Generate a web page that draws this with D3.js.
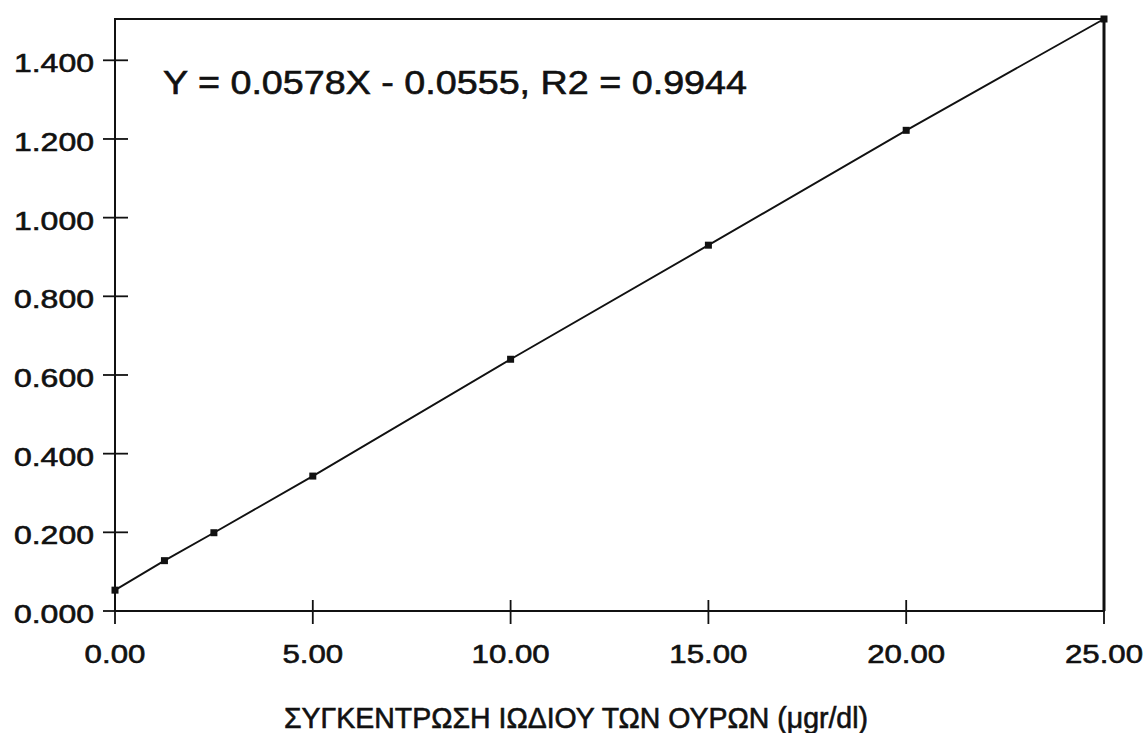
<!DOCTYPE html>
<html>
<head>
<meta charset="utf-8">
<script src="https://cdn.jsdelivr.net/npm/d3@7/dist/d3.min.js"></script>
<style>
  html, body { margin: 0; padding: 0; background: #fff; }
  svg { display: block; }
  text { font-family: "Liberation Sans", Arial, Helvetica, sans-serif; fill: #111; stroke: #111; stroke-width: 0.6px; }
</style>
</head>
<body>
<svg id="chart" width="1147" height="733"></svg>
<script>
// ---- data ----
const concentration = [0, 1.25, 2.5, 5, 10, 15, 20, 25];
const absorbance = [0.053, 0.128, 0.199, 0.343, 0.640, 0.930, 1.222, 1.505];
const xTicks = [0, 5, 10, 15, 20, 25];
const yTicks = [0, 0.2, 0.4, 0.6, 0.8, 1.0, 1.2, 1.4];
const equationText = "Y = 0.0578X - 0.0555, R2 = 0.9944";
const xTitle = "ΣΥΓΚΕΝΤΡΩΣΗ ΙΩΔΙΟΥ ΤΩΝ ΟΥΡΩΝ (μgr/dl)";

// ---- layout ----
const svg = d3.select("#chart");
const pLeft = 115, pRight = 1104, pTop = 19, pBottom = 611;
const x = d3.scaleLinear().domain([0, 25]).range([pLeft, pRight]);
const y = d3.scaleLinear().domain([0, 1.505]).range([pBottom, pTop]);
const ink = "#111";

// frame
svg.append("rect")
  .attr("x", pLeft).attr("y", pTop)
  .attr("width", pRight - pLeft).attr("height", pBottom - pTop)
  .attr("fill", "none").attr("stroke", ink).attr("stroke-width", 2);
svg.append("line")
  .attr("x1", pRight).attr("x2", pRight).attr("y1", pTop).attr("y2", pBottom)
  .attr("stroke", ink).attr("stroke-width", 3);

// y ticks (crossing the axis)
const yt = svg.append("g");
yTicks.forEach(v => {
  yt.append("line")
    .attr("x1", pLeft - 12).attr("x2", pLeft + 13)
    .attr("y1", y(v)).attr("y2", y(v))
    .attr("stroke", ink).attr("stroke-width", 1.8);
  const t = yt.append("text")
    .attr("x", 94).attr("y", y(v) + 12)
    .attr("text-anchor", "end")
    .attr("font-size", 26)
    .text(d3.format(".3f")(v));
  const L = t.node().getComputedTextLength();
  t.attr("textLength", L * 1.23).attr("lengthAdjust", "spacingAndGlyphs");
});

// x ticks
const xt = svg.append("g");
xTicks.forEach(v => {
  xt.append("line")
    .attr("x1", x(v)).attr("x2", x(v))
    .attr("y1", pBottom - 11).attr("y2", pBottom + 13)
    .attr("stroke", ink).attr("stroke-width", 1.8);
  const t = xt.append("text")
    .attr("x", x(v)).attr("y", 663)
    .attr("text-anchor", "middle")
    .attr("font-size", 26)
    .text(d3.format(".2f")(v));
  const L = t.node().getComputedTextLength();
  t.attr("textLength", L * 1.2).attr("lengthAdjust", "spacingAndGlyphs");
});

// data line
const pts = concentration.map((c, i) => [c, absorbance[i]]);
svg.append("path")
  .datum(pts)
  .attr("d", d3.line().x(d => x(d[0])).y(d => y(d[1])))
  .attr("fill", "none").attr("stroke", ink).attr("stroke-width", 1.9);

// markers
svg.append("g").selectAll("rect")
  .data(pts).join("rect")
  .attr("x", d => x(d[0]) - 3.5).attr("y", d => y(d[1]) - 3.5)
  .attr("width", 7).attr("height", 7)
  .attr("fill", ink);

// equation
svg.append("text")
  .attr("x", 163).attr("y", 94)
  .attr("font-size", 33)
  .attr("textLength", 584).attr("lengthAdjust", "spacingAndGlyphs")
  .text(equationText);

// x axis title
svg.append("text")
  .attr("x", 284).attr("y", 728)
  .attr("font-size", 29)
  .attr("textLength", 584).attr("lengthAdjust", "spacingAndGlyphs")
  .text(xTitle);
</script>
</body>
</html>
